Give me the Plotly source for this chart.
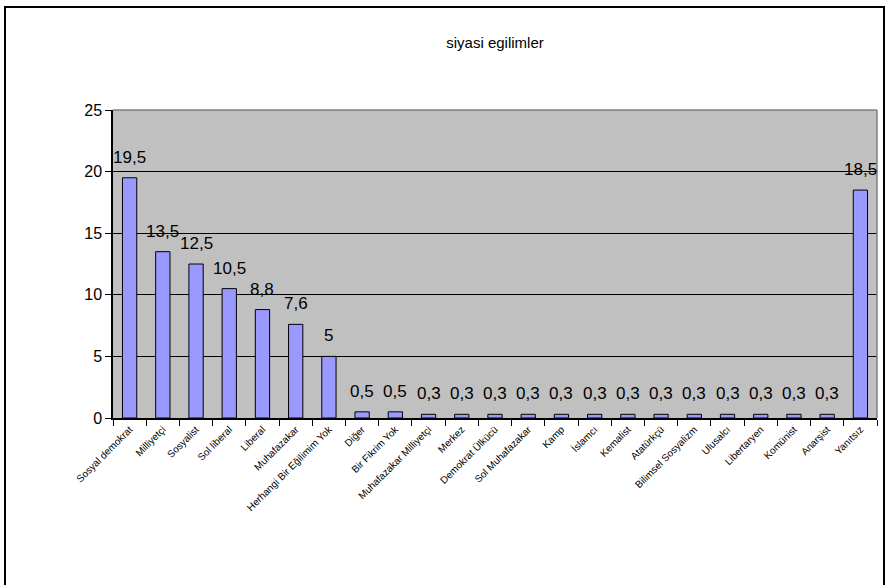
import plotly.graph_objects as go

categories = [
    "Sosyal demokrat", "Milliyetçi", "Sosyalist", "Sol liberal", "Liberal",
    "Muhafazakar", "Herhangi Bir Eğilimim Yok", "Diğer", "Bir Fikrim Yok",
    "Muhafazakar Milliyetçi", "Merkez", "Demokrat Ülkücü", "Sol Muhafazakar",
    "Kamp", "İslamcı", "Kemalist", "Atatürkçü", "Bilimsel Sosyalizm", "Ulusalcı",
    "Libertaryen", "Komünist", "Anarşist", "Yanıtsız",
]
values = [19.5, 13.5, 12.5, 10.5, 8.8, 7.6, 5, 0.5, 0.5,
          0.3, 0.3, 0.3, 0.3, 0.3, 0.3, 0.3, 0.3, 0.3, 0.3, 0.3, 0.3, 0.3, 18.5]
y_ticks = [0, 5, 10, 15, 20, 25]
title_text = "siyasi egilimler"

FONT = "Liberation Sans, Arial, sans-serif"
xs = list(range(len(categories)))
labels = [f"{v:g}".replace(".", ",") for v in values]

fig = go.Figure(go.Bar(
    x=xs, y=values,
    marker=dict(color="#9999FF", line=dict(color="black", width=1)),
    width=0.43,
))

annotations = [
    dict(x=x, y=v, xref="x", yref="y", text=t, showarrow=False,
         yanchor="bottom", xanchor="center", yshift=9,
         font=dict(family=FONT, size=17, color="black"))
    for x, v, t in zip(xs, values, labels)
]

fig.update_layout(
    width=888, height=585,
    margin=dict(l=113, r=11, t=110, b=167),
    paper_bgcolor="white", plot_bgcolor="#C0C0C0",
    showlegend=False,
    title=dict(text=title_text, x=0.5, xref="paper", xanchor="center",
               y=1 - 43 / 585, yanchor="middle",
               font=dict(family=FONT, size=15, color="black")),
    annotations=annotations,
    xaxis=dict(
        range=[-0.5, len(categories) - 0.5],
        tickmode="array", tickvals=xs, ticktext=categories,
        tickangle=-45, ticks="",
        tickfont=dict(family=FONT, size=10, color="black"),
        showline=True, linecolor="black", linewidth=1.5,
        showgrid=False, zeroline=False,
        minor=dict(tick0=-0.5, dtick=1, ticks="outside", ticklen=6,
                   tickcolor="black", tickwidth=1, showgrid=False),
        fixedrange=True,
    ),
    yaxis=dict(
        range=[0, 25], tickmode="array", tickvals=y_ticks,
        ticks="outside", ticklen=6, tickcolor="black",
        tickfont=dict(family=FONT, size=16, color="black"),
        showline=True, linecolor="black", linewidth=1.5,
        showgrid=True, gridcolor="black", gridwidth=1.2,
        zeroline=False,
    ),
    shapes=[
        dict(type="line", xref="paper", yref="paper", x0=0, x1=1, y0=1, y1=1,
             line=dict(color="#808080", width=1.5)),
        dict(type="line", xref="paper", yref="paper", x0=1, x1=1, y0=0, y1=1,
             line=dict(color="#808080", width=1.5)),
        dict(type="rect", xref="paper", yref="paper",
             x0=(5 - 113) / 764, x1=(884 - 113) / 764,
             y0=(418 - 600) / 308, y1=(418 - 7) / 308,
             line=dict(color="black", width=2), fillcolor="rgba(0,0,0,0)",
             layer="above"),
    ],
)

fig.write_html("out.html")
